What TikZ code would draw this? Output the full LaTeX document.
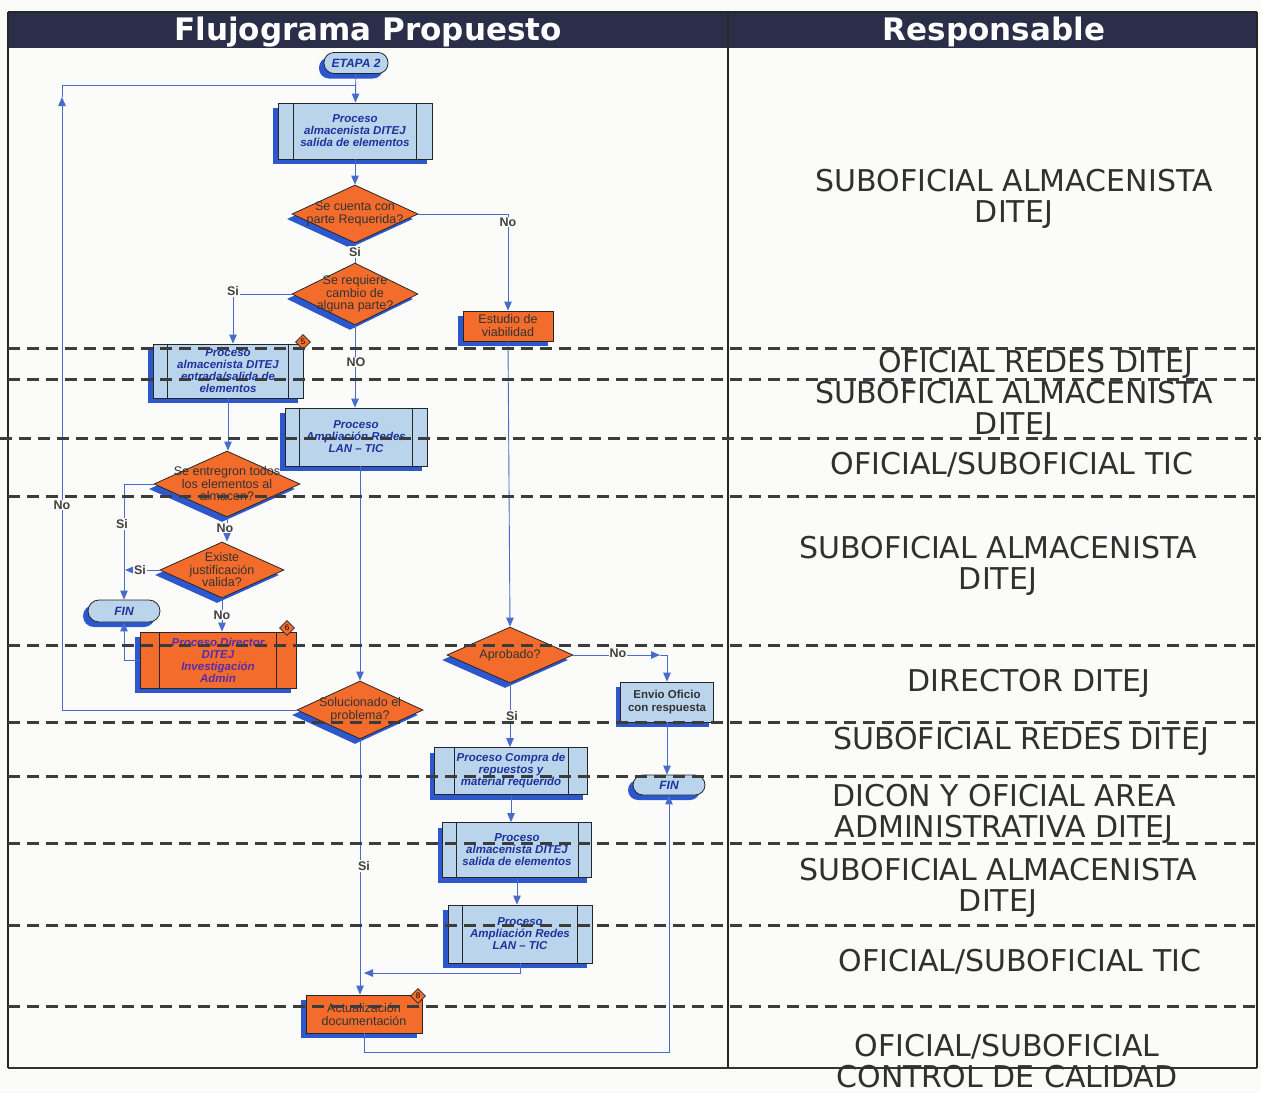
\documentclass[tikz,border=0pt]{standalone}
\usepackage{fontspec}
\setmainfont{Liberation Sans}
\newfontfamily\headfont{DejaVu Sans}
\usetikzlibrary{shapes.geometric,arrows.meta,shadows}

\definecolor{navyhead}{RGB}{42,46,72}
\definecolor{flowblue}{RGB}{72,108,205}
\definecolor{shadeblue}{RGB}{45,88,205}
\definecolor{procfill}{RGB}{186,212,236}
\definecolor{orangefill}{RGB}{243,108,44}
\definecolor{proctext}{RGB}{30,50,155}
\definecolor{dirtext}{RGB}{88,45,170}
\definecolor{lanegray}{RGB}{60,60,60}
\definecolor{resptext}{RGB}{48,48,48}
\definecolor{pagebg}{RGB}{251,251,249}

% two inner bars of a predefined-process box
\newcommand\sidebars[2]{%
  \draw[boxedge] ([xshift=#2]#1.north west) -- ([xshift=#2]#1.south west)
                 ([xshift=-#2]#1.north east) -- ([xshift=-#2]#1.south east);}

\begin{document}
\begin{tikzpicture}[x=1pt,y=-1pt,
  boxedge/.style={draw=black!85, line width=0.8pt},
  bshadow/.style={general shadow={shadow xshift=-5pt, shadow yshift=-5pt, fill=shadeblue}},
  procbox/.style={rectangle, boxedge, fill=procfill, bshadow, inner sep=0pt, align=center,
    text=proctext, font=\bfseries\itshape\fontsize{11.5}{12}\selectfont},
  dirbox/.style={procbox, fill=orangefill, text=dirtext},
  plainbox/.style={rectangle, boxedge, fill=orangefill, bshadow, inner sep=0pt, align=center,
    text=black!80, font=\fontsize{12.5}{13}\selectfont},
  infobox/.style={plainbox, fill=procfill, font=\bfseries\fontsize{11.5}{13}\selectfont},
  decision/.style={diamond, boxedge, fill=orangefill, bshadow, inner sep=0pt},
  dectext/.style={align=center, inner sep=0pt, text=black!80, font=\fontsize{12.5}{12.5}\selectfont},
  terminal/.style={rectangle, rounded corners=10pt, boxedge, fill=procfill, bshadow, inner sep=0pt,
    text=proctext, font=\bfseries\itshape\fontsize{12}{12}\selectfont},
  badge/.style={diamond, draw=black!85, line width=0.6pt, fill=orangefill, minimum width=15pt,
    minimum height=15pt, inner sep=0pt, font=\fontsize{8}{8}\selectfont},
  flow/.style={draw=flowblue, line width=0.9pt},
  arrow/.style={flow, -{Triangle[length=9pt,width=7.5pt]}},
  tag/.style={fill=pagebg, inner sep=1pt, text=black!75, font=\bfseries\fontsize{12.5}{12.5}\selectfont},
  lane/.style={draw=lanegray, line width=3pt, dash pattern=on 12pt off 7pt},
  resp/.style={align=center, text=resptext, inner sep=0pt, font=\headfont\fontsize{30}{31}\selectfont},
]
\useasboundingbox (0,0) rectangle (1261,1093);
\fill[pagebg] (0,0) rectangle (1261,1093);

% table header and frame
\fill[navyhead] (8,12) rectangle (1257,48);
\node[text=white, font=\headfont\bfseries\fontsize{31}{31}\selectfont] (hflow) at (368,32) {Flujograma Propuesto};
\node[text=white, font=\headfont\bfseries\fontsize{31}{31}\selectfont] (hresp) at (994,32) {Responsable};
\draw[black!85, line width=1.4pt] (8,12) -- (1257,12) (8,12) -- (8,1068) (1257,12) -- (1257,1068)
  (728,12) -- (728,1068);
\draw[black!80, line width=2.2pt] (8,1068) -- (1257,1068);

% responsible roles
\node[resp] (r1) at (1014,199) {SUBOFICIAL ALMACENISTA\\DITEJ};
\node[resp] (r2) at (1036,364) {OFICIAL REDES DITEJ};
\node[resp] (r3) at (1014,411) {SUBOFICIAL ALMACENISTA\\DITEJ};
\node[resp] (r4) at (1012,465) {OFICIAL/SUBOFICIAL TIC};
\node[resp] (r5) at (998,566) {SUBOFICIAL ALMACENISTA\\DITEJ};
\node[resp] (r6) at (1029,683) {DIRECTOR DITEJ};
\node[resp] (r7) at (1021,741) {SUBOFICIAL REDES DITEJ};
\node[resp] (r8) at (1004,814) {DICON Y OFICIAL AREA\\ADMINISTRATIVA DITEJ};
\node[resp] (r9) at (998,888) {SUBOFICIAL ALMACENISTA\\DITEJ};
\node[resp] (r10) at (1020,962) {OFICIAL/SUBOFICIAL TIC};
\node[resp] (r11) at (1007,1061) {OFICIAL/SUBOFICIAL\\CONTROL DE CALIDAD};

% flow nodes
\node[terminal, minimum width=64pt, minimum height=21pt] (etapa) at (356,63) {ETAPA 2};
\node[procbox, minimum width=154pt, minimum height=56pt] (p1) at (355,131)
  {Proceso\\almacenista DITEJ\\salida de elementos};
\node[decision, minimum width=126pt, minimum height=58pt] (d1) at (355,214) {};
\node[dectext] (d1t) at (d1) {Se cuenta con\\parte Requerida?};
\node[decision, minimum width=126pt, minimum height=62pt] (d2) at (355,294) {};
\node[dectext] (d2t) at (d2) {Se requiere\\cambio de\\alguna parte?};
\node[plainbox, minimum width=90pt, minimum height=30pt] (est) at (508,326) {Estudio de\\viabilidad};
\node[procbox, minimum width=150pt, minimum height=54pt] (p2) at (228,371)
  {Proceso\\almacenista DITEJ\\entrada/salida de\\elementos};
\node[procbox, minimum width=142pt, minimum height=58pt] (p3) at (356,437)
  {Proceso\\Ampliación Redes\\LAN -- TIC};
\node[decision, minimum width=146pt, minimum height=66pt] (d3) at (227,484) {};
\node[dectext] (d3t) at (d3) {Se entregron todos\\los elementos al\\almacen?};
\node[decision, minimum width=124pt, minimum height=56pt] (d4) at (222,570) {};
\node[dectext] (d4t) at (d4) {Existe\\justificación\\valida?};
\node[terminal, rounded corners=11pt, minimum width=72pt, minimum height=22pt] (finL) at (124,611) {FIN};
\node[dirbox, minimum width=156pt, minimum height=56pt] (pdir) at (218,660)
  {Proceso Director\\DITEJ\\Investigación\\Admin};
\node[decision, minimum width=126pt, minimum height=56pt] (d6) at (510,655) {};
\node[dectext] (d6t) at (d6) {Aprobado?};
\node[decision, minimum width=126pt, minimum height=58pt] (d5) at (360,710) {};
\node[dectext] (d5t) at (d5) {Solucionado el\\problema?};
\node[infobox, minimum width=93pt, minimum height=40pt] (envio) at (667,702) {Envio Oficio\\con respuesta};
\node[terminal, minimum width=72pt, minimum height=20pt] (finR) at (669,785) {FIN};
\node[procbox, minimum width=153pt, minimum height=47pt] (pc) at (511,771)
  {Proceso Compra de\\repuestos y\\material requerido};
\node[procbox, minimum width=149pt, minimum height=55pt] (p4) at (517,850)
  {Proceso\\almacenista DITEJ\\salida de elementos};
\node[procbox, minimum width=144pt, minimum height=58pt] (p5) at (520,934)
  {Proceso\\Ampliación Redes\\LAN -- TIC};
\node[plainbox, minimum width=116pt, minimum height=38pt] (act) at (364,1014) {Actualización\\documentación};

\sidebars{p1}{16pt}
\sidebars{p2}{15pt}
\sidebars{p3}{15pt}
\sidebars{pdir}{20pt}
\sidebars{pc}{20pt}
\sidebars{p4}{14pt}
\sidebars{p5}{15pt}

\node[badge] (b5) at (303,342) {5};
\node[badge] (b6) at (287,628) {6};
\node[badge] (b8) at (418,996) {8};

% loop-back and junction points
\coordinate (loopbot) at (62,710);
\coordinate (looptip) at (62,97);
\coordinate (looptop) at (62,85);
\coordinate (loopjoin) at (356,85);
\coordinate (finlane) at (122,570);
\coordinate (nomid) at (660,655);
\coordinate (actjoin) at (364,973);
\coordinate (basecorner) at (364,1052);

% connectors
\draw[arrow] (etapa) -- (p1);
\draw[arrow] (p1) -- (d1);
\draw[flow] (d1) -- (d2);
\draw[arrow] (d1.east) -| (est.north);
\draw[arrow] (d2.west) -| ([xshift=5pt]p2.north);
\draw[arrow] (d2.south) -- (p3.north -| d2.south);
\draw[arrow] (est.south) -- (d6.north);
\draw[arrow] (p2.south) -- (p2.south |- d3.north);
\draw[arrow] (p3.south -| d5.north) -- (d5.north);
\draw[arrow] (d3.west) -| (finL.north);
\draw[arrow] (d3.south) -- (d3.south |- d4.north);
\draw[arrow] (d4.west) -- ([xshift=3pt]finlane);
\draw[arrow] (d4.south) -- (d4.south |- pdir.north);
\draw[arrow] (pdir.west) -| (finL.south);
\draw[arrow] (d5.west) -- (loopbot) -- (looptip);
\draw[flow] (looptip) -- (looptop) -- (loopjoin);
\draw[arrow] (d5.south) -- (d5.south |- act.north);
\draw[arrow] (p5.south) |- (actjoin);
\draw[arrow] (act.south) -- (basecorner) -| (finR.south);
\draw[arrow] (d6.east) -- (nomid);
\draw[arrow] (nomid) -| (envio.north);
\draw[arrow] (d6.south) -- (d6.south |- pc.north);
\draw[arrow] (envio.south) -- (envio.south |- finR.north);
\draw[arrow] (pc.south) -- (pc.south |- p4.north);
\draw[arrow] (p4.south) -- (p4.south |- p5.north);

% branch labels
\node[tag] (t1) at (355,252) {Si};
\node[tag] (t2) at (508,222) {No};
\node[tag] (t3) at (233,291) {Si};
\node[tag] (t4) at (356,362) {NO};
\node[tag] (t5) at (122,524) {Si};
\node[tag] (t6) at (225,528) {No};
\node[tag] (t7) at (140,570) {Si};
\node[tag] (t8) at (222,615) {No};
\node[tag] (t9) at (62,505) {No};
\node[tag] (t10) at (618,653) {No};
\node[tag] (t11) at (512,716) {Si};
\node[tag] (t12) at (364,866) {Si};

% lane separators, drawn over everything
\draw[lane] (8,348) -- (1261,348);
\draw[lane] (8,379) -- (1261,379);
\draw[lane] (0,438) -- (1261,438);
\draw[lane] (8,496) -- (1261,496);
\draw[lane] (8,645) -- (1261,645);
\draw[lane] (8,722) -- (1261,722);
\draw[lane] (8,776) -- (1261,776);
\draw[lane] (8,843) -- (1261,843);
\draw[lane] (8,925) -- (1261,925);
\draw[lane] (8,1006) -- (1261,1006);
\end{tikzpicture}
\end{document}
